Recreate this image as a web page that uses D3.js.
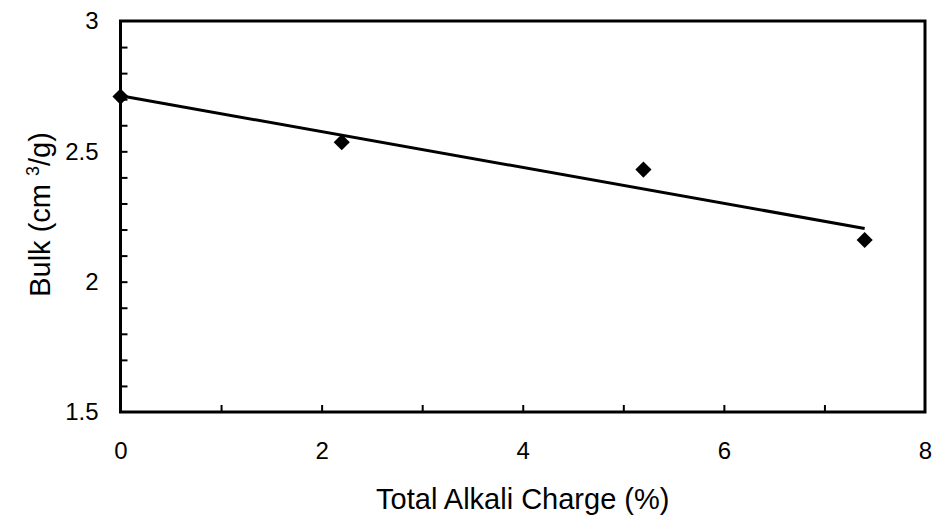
<!DOCTYPE html>
<html>
<head>
<meta charset="utf-8">
<script src="https://cdn.jsdelivr.net/npm/d3@7"></script>
<style>
  html, body { margin: 0; padding: 0; background: #fff; }
  svg text { font-family: "Liberation Sans", Arial, sans-serif; fill: #000; }
</style>
</head>
<body>
<svg id="chart" width="938" height="522"></svg>
<script>
// ---- data ----
const alkaliCharge = [0, 2.2, 5.2, 7.4];
const bulkValues = [2.71, 2.535, 2.43, 2.16];
const xTickLabels = [0, 2, 4, 6, 8];
const yTickLabels = [1.5, 2, 2.5, 3];
const xMinorTicks = [1, 2, 3, 4, 5, 6, 7];
const yMinorTicks = [1.6, 1.7, 1.8, 1.9, 2.0, 2.1, 2.2, 2.3, 2.4, 2.5, 2.6, 2.7, 2.8, 2.9];
const xTitle = "Total Alkali Charge (%)";

(function () {
// ---- layout ----
const svg = d3.select("#chart");
const pL = 120.5, pR = 925, pT = 21, pB = 412;

const x = d3.scaleLinear().domain([0, 8]).range([pL, pR]);
const y = d3.scaleLinear().domain([1.5, 3]).range([pB, pT]);

// linear trendline (least squares) from the data
const n = alkaliCharge.length;
const mx = d3.mean(alkaliCharge), my = d3.mean(bulkValues);
let sxy = 0, sxx = 0;
for (let i = 0; i < n; i++) {
  sxy += (alkaliCharge[i] - mx) * (bulkValues[i] - my);
  sxx += (alkaliCharge[i] - mx) ** 2;
}
const slope = sxy / sxx, intercept = my - slope * mx;
const xExtent = d3.extent(alkaliCharge);
const trend = xExtent.map(v => [v, intercept + slope * v]);

// minor ticks (inside)
svg.append("g")
  .attr("transform", `translate(${pL},0)`)
  .call(d3.axisLeft(y).tickValues(yMinorTicks).tickSize(-7).tickFormat(""))
  .call(g => g.select(".domain").remove())
  .call(g => g.selectAll("line").attr("stroke", "#000").attr("stroke-width", 2));

svg.append("g")
  .attr("transform", `translate(0,${pB})`)
  .call(d3.axisBottom(x).tickValues(xMinorTicks).tickSize(-7).tickFormat(""))
  .call(g => g.select(".domain").remove())
  .call(g => g.selectAll("line").attr("stroke", "#000").attr("stroke-width", 2));

// tick labels
svg.append("g")
  .attr("transform", `translate(${pL},0)`)
  .call(d3.axisLeft(y).tickValues(yTickLabels).tickSize(0).tickPadding(22).tickFormat(d3.format("")))
  .call(g => g.select(".domain").remove())
  .call(g => g.selectAll("text").attr("font-size", 24).attr("font-family", "Liberation Sans, Arial, sans-serif"));

svg.append("g")
  .attr("transform", `translate(0,${pB})`)
  .call(d3.axisBottom(x).tickValues(xTickLabels).tickSize(0).tickPadding(30).tickFormat(d3.format("")))
  .call(g => g.select(".domain").remove())
  .call(g => g.selectAll("text").attr("font-size", 24).attr("font-family", "Liberation Sans, Arial, sans-serif"));

// frame
svg.append("rect")
  .attr("x", pL).attr("y", pT)
  .attr("width", pR - pL).attr("height", pB - pT)
  .attr("fill", "none").attr("stroke", "#000").attr("stroke-width", 3);

// markers
svg.append("g").selectAll("path")
  .data(alkaliCharge.map((v, i) => [v, bulkValues[i]]))
  .join("path")
  .attr("d", d3.symbol(d3.symbolSquare, 130))
  .attr("transform", d => `translate(${x(d[0])},${y(d[1])}) rotate(45)`)
  .attr("fill", "#000");

// trendline
svg.append("path")
  .datum(trend)
  .attr("d", d3.line().x(d => x(d[0])).y(d => y(d[1])))
  .attr("fill", "none").attr("stroke", "#000").attr("stroke-width", 3);

// axis titles
svg.append("text")
  .attr("x", (pL + pR) / 2).attr("y", 509)
  .attr("text-anchor", "middle").attr("font-size", 29)
  .text(xTitle);

const yt = svg.append("text")
  .attr("transform", `translate(50,${(pT + pB) / 2 - 2}) rotate(-90)`)
  .attr("text-anchor", "middle").attr("font-size", 29);
yt.append("tspan").text("Bulk (cm ");
yt.append("tspan").attr("dy", -11).attr("font-size", 18).text("3");
yt.append("tspan").attr("dy", 11).text("/g)");
})();
</script>
</body>
</html>
